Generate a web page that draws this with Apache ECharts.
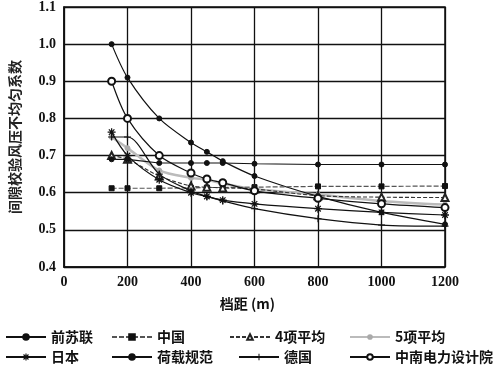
<!DOCTYPE html>
<html><head><meta charset="utf-8">
<script src="https://cdn.jsdelivr.net/npm/echarts@6/dist/echarts.min.js"></script>
<style>html,body{margin:0;padding:0;background:#fff}#c{width:500px;height:369px}</style>
</head><body><div id="c"></div>
<script>
const spans = [150, 200, 300, 400, 450, 500, 600, 800, 1000, 1200];
const xTicks = [0, 200, 400, 600, 800, 1000, 1200];
const yTicks = [0.4, 0.5, 0.6, 0.7, 0.8, 0.9, 1.0, 1.1];
const sovietVals = [1.0, 0.91, 0.80, 0.735, 0.71, 0.685, 0.645, 0.59, 0.547, 0.515];
const chinaVals = [0.612, 0.612, 0.612, 0.613, 0.614, 0.614, 0.615, 0.617, 0.617, 0.618];
const avg4Vals = [0.70, 0.69, 0.645, 0.618, 0.615, 0.613, 0.61, 0.592, 0.588, 0.587];
const avg5Vals = [0.75, 0.72, 0.66, 0.64, 0.635, 0.625, 0.61, 0.595, 0.578, 0.568];
const japanVals = [0.763, 0.70, 0.635, 0.60, 0.59, 0.58, 0.57, 0.557, 0.547, 0.54];
const loadCodeVals = [0.69, 0.69, 0.68, 0.68, 0.68, 0.68, 0.678, 0.676, 0.676, 0.676];
const germanyVals = [0.75, 0.75, 0.65, 0.605, 0.59, 0.578, 0.557, 0.53, 0.513, 0.51];
const csepdiVals = [0.90, 0.80, 0.70, 0.653, 0.637, 0.627, 0.605, 0.585, 0.57, 0.56];
const names = ['前苏联','中国','4项平均','5项平均','日本','荷载规范','德国','中南电力设计院'];

const pair = v => spans.map((x, i) => [x, v[i]]);
const star = 'path://M0,4.2L10,4.2L10,5.8L0,5.8ZM4.2,0L5.8,0L5.8,10L4.2,10ZM1,2.1L2.1,1L9,7.9L7.9,9ZM7.9,1L9,2.1L2.1,9L1,7.9Z';
const plus = 'path://M0,4.2L10,4.2L10,5.8L0,5.8ZM4.2,0L5.8,0L5.8,10L4.2,10Z';
const base = (name, vals, extra) => Object.assign({
  name, type: 'line', data: pair(vals), smooth: 0.3,
  color: '#111',
  symbol: 'circle', symbolSize: 5,
  lineStyle: {color: '#111', width: 1.2},
  itemStyle: {color: '#111', borderColor: '#111', borderWidth: 1},
  z: 3
}, extra || {});

const series = [
  base(names[0], sovietVals),
  base(names[1], chinaVals, {symbol: 'rect', symbolSize: 5, smooth: false,
    lineStyle: {color: '#555', width: 1.2, type: [5, 2]}}),
  base(names[2], avg4Vals, {symbol: 'emptyTriangle', symbolSize: 7,
    lineStyle: {color: '#333', width: 1.1, type: [4, 2]}, itemStyle: {color: '#222', borderColor: '#222', borderWidth: 1}}),
  base(names[3], avg5Vals, {symbol: 'circle', symbolSize: 5, color: '#aaa',
    lineStyle: {color: '#bbb', width: 2.5}, itemStyle: {color: '#aaa', borderColor: '#aaa'}, z: 2}),
  base(names[4], japanVals, {symbol: star, symbolSize: 8,
    itemStyle: {color: '#111', borderWidth: 0}}),
  base(names[5], loadCodeVals, {smooth: false}),
  base(names[6], germanyVals, {symbol: plus, symbolSize: 7,
    itemStyle: {color: '#111', borderWidth: 0}}),
  base(names[7], csepdiVals, {symbol: 'emptyCircle', symbolSize: 7,
    itemStyle: {color: '#111', borderColor: '#111', borderWidth: 1.1}})
];

const legendPos = [[5, 330], [111, 330], [229, 330], [349, 330], [5, 350], [111, 350], [238, 350], [349, 350]];
const legendIconH = [7, 7, 7, 7, 9, 7, 8, 7];
const legendNames = [names[0], names[1], names[2], names[3], names[4], names[5], names[6], names[7]];
const legends = legendNames.map((n, i) => ({
  data: [n], left: legendPos[i][0], top: legendPos[i][1], padding: 0,
  itemWidth: 40, itemHeight: legendIconH[i], itemGap: 0,
  textStyle: {fontFamily: 'Noto Sans CJK SC', fontWeight: 'bold', fontSize: 14, color: '#111'}
}));

const chart = echarts.init(document.getElementById('c'));
chart.setOption({
  animation: false,
  backgroundColor: '#fff',
  legend: legends,
  grid: {left: 62, right: 55, top: 5, bottom: 102, show: true, borderColor: '#111', borderWidth: 1.5},
  xAxis: {
    type: 'value', min: xTicks[0], max: xTicks[xTicks.length - 1], interval: 200,
    name: '档距 (m)', nameLocation: 'middle', nameGap: 30,
    nameTextStyle: {fontFamily: 'Noto Sans CJK SC', fontWeight: 'bold', fontSize: 14, color: '#111', padding: [0, 14, 0, 0]},
    axisLine: {lineStyle: {color: '#111', width: 1.5}},
    axisTick: {show: false},
    axisLabel: {fontFamily: 'Liberation Serif', fontWeight: 'bold', fontSize: 14, color: '#111', margin: 8,
      formatter: v => String(v)},
    splitLine: {show: true, lineStyle: {color: '#111', width: 1.3}}
  },
  yAxis: {
    type: 'value', min: yTicks[0], max: yTicks[yTicks.length - 1], interval: 0.1,
    name: '间隙校验风压不均匀系数', nameLocation: 'middle', nameGap: 42, nameRotate: 90,
    nameTextStyle: {fontFamily: 'Noto Sans CJK SC', fontWeight: 'bold', fontSize: 14, color: '#222'},
    axisLine: {lineStyle: {color: '#111', width: 1.5}},
    axisTick: {show: false},
    axisLabel: {fontFamily: 'Liberation Serif', fontWeight: 'bold', fontSize: 14, color: '#111', margin: 8,
      formatter: v => v.toFixed(1)},
    splitLine: {show: true, lineStyle: {color: '#111', width: 1.3}}
  },
  series
});
</script></body></html>
